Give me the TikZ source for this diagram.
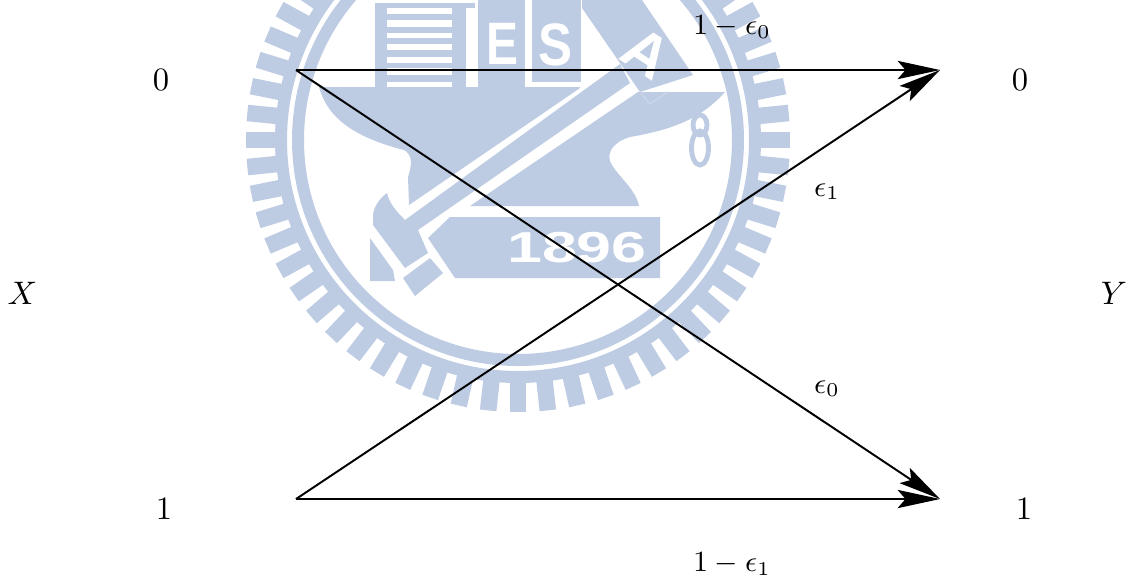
\documentclass[tikz,border=0pt]{standalone}
\usepackage{amsmath,fontspec}
\usepackage{xcolor,tikz}
\usetikzlibrary{arrows.meta,positioning,calc}
\newfontfamily\logofont{Liberation Sans}
\definecolor{logoblue}{HTML}{BDCBE3}
\definecolor{logoline}{HTML}{CBD6E9}
\tikzset{logo/.style={fill=logoblue,draw=none},
  logoclear/.style={fill=white,draw=none},
  logotext/.style={text=white,inner sep=0pt,transform shape,font=\logofont\bfseries\fontsize{18.4}{20}\selectfont},
  arrow/.style={-{Stealth[length=13pt,width=5.6pt,inset=2.4pt]},line width=.6pt,draw=black},
  lab/.style={inner sep=0pt},
  smalllab/.style={inner sep=0pt,font=\small}}

\begin{document}
\begin{tikzpicture}[x=.307pt,y=-.307pt]
\useasboundingbox (0,0) rectangle (1126,576);
\clip (0,0) rectangle (1126,576);
% seal
\begin{scope}[shift={(518,140)}]
\foreach \a in {0,6,...,354}
  \fill[logo,rotate={\a-1.43*sin(2*\a)}] (240,-8.25) rectangle (272,8.25);
\fill[logo,even odd rule] (0,0) circle[radius=243] (0,0) circle[radius=231];
\fill[logo,even odd rule] (0,0) circle[radius=226] (0,0) circle[radius=214];
\end{scope}
% building
\fill[logo] (375,3) rectangle (475,87);
\foreach \t/\b in {8/14,20/27,33/38,44/50,57/63,68/75,82/87}
  \fill[logoclear] (387,\t) rectangle (452,\b);
\fill[logoclear] (466,8) rectangle (475,87);
\fill[logo] (478,0) rectangle (525,87);
\fill[logo] (532,0) rectangle (581,82);
\node[logotext,xscale=.8] (letterE) at (502,43.5) {E};
\node[logotext,xscale=.85] (letterS) at (555,44.5) {S};
% anvil
\fill[logo] (319,87) .. controls (326,112) and (345,135) .. (404,150)
  .. controls (413,155) and (412,165) .. (408,177) -- (409,205) -- (580,88) -- (580,87) -- cycle;
\fill[logo] (470,206) -- (638,92) -- (725,92) .. controls (700,120) and (670,130) .. (630,137)
  .. controls (612,142) and (605,155) .. (612,165) .. controls (620,178) and (636,190) .. (639,206) -- cycle;
\fill[logo] (582,0) -- (582,8) -- (640,92) -- (693,75) -- (642,0) -- cycle;
\draw[logoline,line width=.4pt] (640,92) -- (650,104) -- (668,92);
\node[logotext,rotate=-33] (letterA) at (647,53) {A};
\draw[logoblue,line width=1.5pt] (700,125) ellipse[x radius=7,y radius=10];
\draw[logoblue,line width=1.5pt] (700,148) ellipse[x radius=8.5,y radius=17];
% hammer
\fill[logo] (387,193) .. controls (389,203) and (397,212) .. (405,220) -- (620,64) -- (630,83)
  -- (418,230) -- (428,253) -- (405,268) -- (373,225) -- (373,215) .. controls (374,206) and (380,198) .. (387,193) -- cycle;
\fill[logo] (403,278) -- (430,258) -- (443,273) -- (415,296) -- cycle;
\fill[logo] (370,238) -- (393,270) -- (395,281) -- (370,281) -- cycle;
\fill[logo] (450,217) -- (428,238) -- (455,278) -- (660,278) -- (660,217) -- cycle;
\node[logotext,font=\logofont\bfseries\fontsize{13.3}{15}\selectfont,xscale=1.45] (year) at (577,247.5) {1896};
% channel
\coordinate (x0) at (296,70);
\coordinate (x1) at (296,499);
\coordinate (y0) at (940,70);
\coordinate (y1) at (940,499);
\draw[arrow] (x0)--(y0);
\draw[arrow] (x0)--(y1);
\draw[arrow] (x1)--(y0);
\draw[arrow] (x1)--(y1);
\node[lab] (in0) at (161,80) {0};
\node[lab] (in1) at (164,509) {1};
\node[lab] (out0) at (1020,80) {0};
\node[lab] (out1) at (1024,509) {1};
\node[lab] (inX) at (22.5,293) {$X$};
\node[lab] (outY) at (1114,293) {$Y$};
\node[smalllab] (p00) at (732,27) {$1-\epsilon_0$};
\node[smalllab] (p10) at (827,192) {$\epsilon_1$};
\node[smalllab] (p01) at (827,389) {$\epsilon_0$};
\node[smalllab] (p11) at (732,564) {$1-\epsilon_1$};
\end{tikzpicture}
\end{document}
